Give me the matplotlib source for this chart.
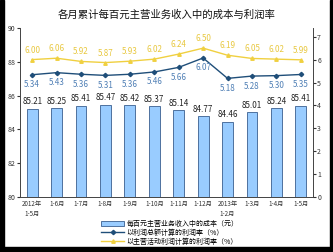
import matplotlib
matplotlib.use("Agg")
import matplotlib.pyplot as plt
from matplotlib.patches import Rectangle
import numpy as np

plt.rcParams['font.family'] = ['Noto Sans CJK SC', 'DejaVu Sans']

# 数据
months = ["2012年\n1-5月", "1-6月", "1-7月", "1-8月", "1-9月", "1-10月",
          "1-11月", "1-12月", "2013年\n1-2月", "1-3月", "1-4月", "1-5月"]
cost = [85.21, 85.25, 85.41, 85.47, 85.42, 85.37, 85.14, 84.77, 84.46, 85.01, 85.24, 85.41]
profit_total = [5.34, 5.43, 5.36, 5.31, 5.36, 5.46, 5.66, 6.07, 5.18, 5.28, 5.30, 5.35]
profit_main = [6.00, 6.06, 5.92, 5.87, 5.93, 6.02, 6.24, 6.50, 6.19, 6.05, 6.02, 5.99]

legend_labels = ["每百元主营业务收入中的成本（元）",
                 "以利润总额计算的利润率（%）",
                 "以主营活动利润计算的利润率（%）"]

fig = plt.figure(figsize=(3.33, 2.52), dpi=100)
ax = fig.add_axes([0.060, 0.218, 0.880, 0.671])
ax2 = ax.twinx()

x = np.arange(len(months))

# 柱状图
bars = ax.bar(x, cost, width=0.44, bottom=0, color="#99CCFF",
              edgecolor="#3A5F8F", linewidth=0.6, zorder=2)
ax.set_ylim(80, 90)
ax.set_yticks([80, 82, 84, 86, 88, 90])
for xi, v in zip(x, cost):
    ax.text(xi, v + 0.15, f"{v:.2f}", ha="center", va="bottom", fontsize=5.8, color="#222222")

# 折线
l1, = ax2.plot(x, profit_total, color="#1F4E79", marker="D", markersize=2.2, linewidth=1.0)
l2, = ax2.plot(x, profit_main, color="#F0D040", marker="^", markersize=2.5, linewidth=1.0)
ax2.set_ylim(0, 7.38)
ax2.set_yticks(range(0, 8))
for xi, v in zip(x, profit_total):
    ax2.text(xi, v - 0.24, f"{v:.2f}", ha="center", va="top", fontsize=5.8, color="#4F7FB5")
for xi, v in zip(x, profit_main):
    ax2.text(xi, v + 0.22, f"{v:.2f}", ha="center", va="bottom", fontsize=5.8, color="#E8C840")

ax.set_xlim(-0.5, len(months) - 0.5)
ax.set_xticks(x)
ax.set_xticklabels(months, fontsize=4.5, color="#333333", linespacing=1.3)
ax.tick_params(axis="x", length=0, pad=2)
ax.tick_params(axis="y", labelsize=5, length=2, colors="#333333", pad=1)
ax2.tick_params(axis="y", labelsize=5, length=2, colors="#333333", pad=1)

for a in (ax, ax2):
    a.spines["top"].set_visible(False)
    for side in ("left", "right", "bottom"):
        a.spines[side].set_color("#444444")
        a.spines[side].set_linewidth(0.6)

fig.text(0.5, 0.94, "各月累计每百元主营业务收入中的成本与利润率", ha="center", va="center",
         fontsize=7.5, color="#111111")

fig.legend([bars, l1, l2], legend_labels, loc="lower left",
           bbox_to_anchor=(0.29, 0.005), fontsize=5, frameon=False,
           handlelength=3.2, handleheight=0.8, labelspacing=0.15, borderpad=0.2,
           handletextpad=0.4)

# 黑色外框
fig.add_artist(Rectangle((0, 0), 0.012, 1, transform=fig.transFigure, color="black"))
fig.add_artist(Rectangle((0, 0), 1, 0.018, transform=fig.transFigure, color="black"))
fig.add_artist(Rectangle((0.992, 0), 0.008, 1, transform=fig.transFigure, color="black"))

fig.savefig("out.png", dpi=100)
plt.close(fig)
